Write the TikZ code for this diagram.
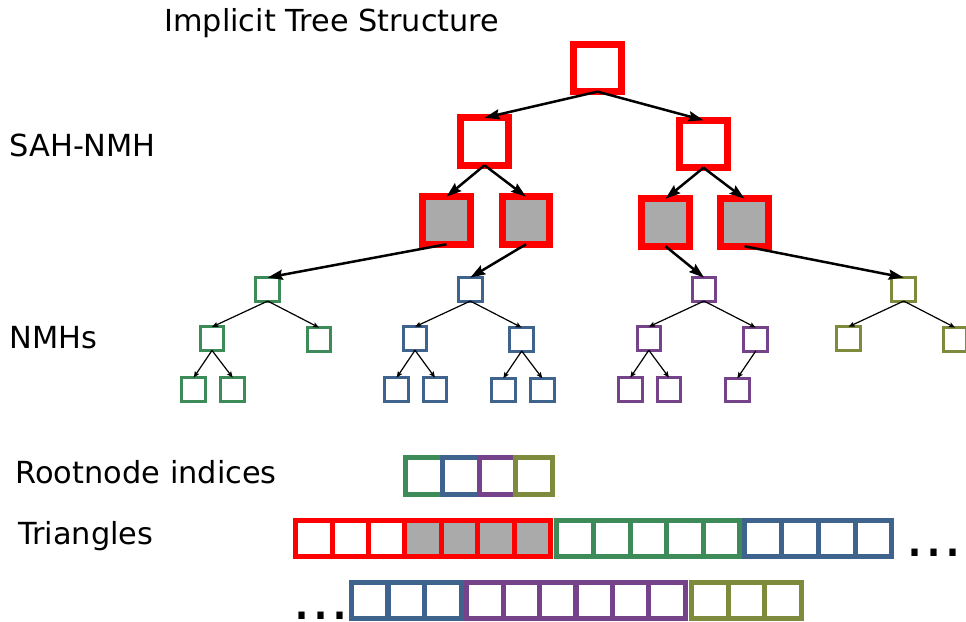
\documentclass[tikz,border=0pt]{standalone}
\usepackage{fontspec}
\setmainfont{DejaVu Sans}
\usetikzlibrary{arrows.meta}
\definecolor{tred}{RGB}{255,0,0}
\definecolor{tgray}{RGB}{170,170,170}
\definecolor{tgreen}{RGB}{61,139,89}
\definecolor{tblue}{RGB}{62,99,141}
\definecolor{tpurple}{RGB}{118,66,138}
\definecolor{tolive}{RGB}{127,139,60}
\begin{document}
\begin{tikzpicture}[x=1pt,y=-1pt,
  big/.style={draw=tred,line width=7pt,minimum size=47.5pt,inner sep=0pt,outer sep=0pt},
  bigg/.style={big,fill=tgray},
  sm/.style={draw=#1,line width=3pt,minimum size=23.5pt,inner sep=0pt,outer sep=0pt},
  cell/.style={draw=#1,line width=5pt,minimum size=36.6pt,inner sep=0pt,outer sep=0pt},
  tarrow/.style={-{Stealth[length=15pt,width=10pt,inset=2pt]},line width=2.5pt},
  sarrow/.style={-{Stealth[length=6pt,width=5pt,inset=1pt]},line width=1.2pt},
  lbl/.style={anchor=base west,inner sep=0pt,outer sep=0pt,font=\fontsize{30.4}{36}\selectfont},
  dots/.style={anchor=base west,inner sep=0pt,outer sep=0pt,font=\fontsize{60}{64}\selectfont}
]
\useasboundingbox (0,0) rectangle (966,621);

% labels
\node[lbl,font=\fontsize{30.3}{36}\selectfont] (title) at (164.4,31) {Implicit Tree Structure};
\node[lbl] (sah) at (9.5,156.7) {SAH-NMH};
\node[lbl] (nmhs) at (9.6,348.3) {NMHs};
\node[lbl] (rni) at (15.6,483.3) {Rootnode indices};
\node[lbl] (tri) at (18.2,544.3) {Triangles};

% top tree
\node[big] (root) at (597.5,67.9) {};
\node[big] (l) at (484.5,141.5) {};
\node[big] (r) at (703.5,144) {};
\node[bigg] (a) at (446.5,220.5) {};
\node[bigg] (b) at (526,220.5) {};
\node[bigg] (c) at (665.5,222.5) {};
\node[bigg] (d) at (744.5,222.5) {};

\draw[tarrow] (root.south) -- (l.north);
\draw[tarrow] (root.south) -- (r.north);
\draw[tarrow] (l.south) -- (a.north);
\draw[tarrow] (l.south) -- (b.north);
\draw[tarrow] (r.south) -- (c.north);
\draw[tarrow] (r.south) -- (d.north);

% green tree
\node[sm=tgreen] (g0) at (267.7,289.3) {};
\node[sm=tgreen] (g1) at (212,338.7) {};
\node[sm=tgreen] (g2) at (319,339.3) {};
\node[sm=tgreen] (g3) at (193.7,389.3) {};
\node[sm=tgreen] (g4) at (232.7,389.3) {};
% blue tree
\node[sm=tblue] (b0) at (470.3,289.3) {};
\node[sm=tblue] (b1) at (415,338.5) {};
\node[sm=tblue] (b2) at (521.7,339.3) {};
\node[sm=tblue] (b3) at (396.7,389.3) {};
\node[sm=tblue] (b4) at (435,389.3) {};
\node[sm=tblue] (b5) at (503.3,390) {};
\node[sm=tblue] (b6) at (542.3,390) {};
% purple tree
\node[sm=tpurple] (p0) at (704,289.3) {};
\node[sm=tpurple] (p1) at (648.8,338.5) {};
\node[sm=tpurple] (p2) at (755.7,339.3) {};
\node[sm=tpurple] (p3) at (630.3,389.3) {};
\node[sm=tpurple] (p4) at (669,389.3) {};
\node[sm=tpurple] (p5) at (737.3,390) {};
% olive tree
\node[sm=tolive] (o0) at (903.7,289.3) {};
\node[sm=tolive] (o1) at (848.5,338.5) {};
\node[sm=tolive] (o2) at (955,339.3) {};

\draw[tarrow] (a.south) -- (g0.north);
\draw[tarrow] (b.south) -- (b0.north);
\draw[tarrow] (c.south) -- (p0.north);
\draw[tarrow] (d.south) -- (o0.north);

\foreach \s/\t in {g0/g1,g0/g2,g1/g3,g1/g4,b0/b1,b0/b2,b1/b3,b1/b4,b2/b5,b2/b6,p0/p1,p0/p2,p1/p3,p1/p4,p2/p5,o0/o1,o0/o2}
  \draw[sarrow] (\s.south) -- (\t.north);

% rootnode indices
\foreach \i/\c in {0/tgreen,1/tblue,2/tpurple,3/tolive}
  \node[cell=\c] (ri\i) at ({424.15+36.7*\i},475.8) {};

% triangles row
\foreach \i in {0,1,2}
  \node[cell=tred] (tr\i) at ({314+36.4*\i},538.4) {};
\foreach \i in {3,4,5,6}
  \node[cell=tred,fill=tgray] (tr\i) at ({314+36.4*\i},538.4) {};
\foreach \i in {0,...,4}
  \node[cell=tgreen] (tg\i) at ({575.1+36.6*\i},538.4) {};
\foreach \i in {0,...,3}
  \node[cell=tblue] (tb\i) at ({763.2+36.75*\i},538.4) {};
\node[dots] (dotsa) at (905.5,556.7) {...};

% third row
\node[dots] (dotsb) at (292,619) {...};
\foreach \i in {0,1,2}
  \node[cell=tblue] (ub\i) at ({369.75+36.5*\i},600.5) {};
\foreach \i in {0,...,5}
  \node[cell=tpurple] (up\i) at ({485+36.4*\i},600.5) {};
\foreach \i in {0,1,2}
  \node[cell=tolive] (uo\i) at ({709.85+36.7*\i},600.5) {};
\end{tikzpicture}
\end{document}
